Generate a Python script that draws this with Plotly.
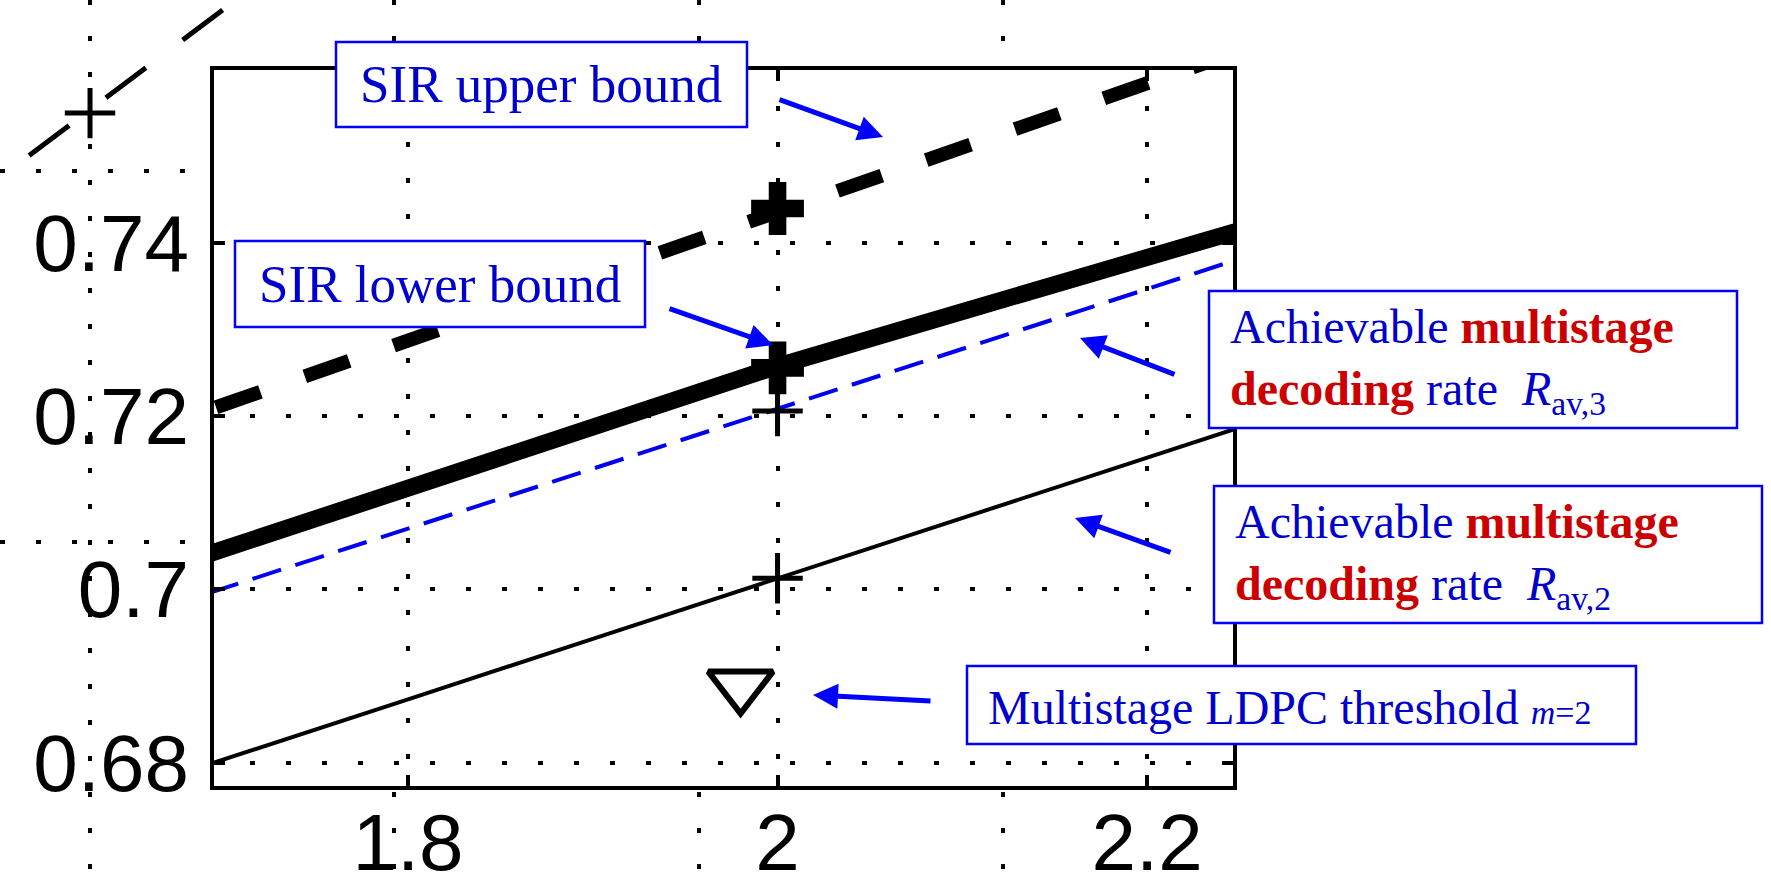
import plotly.graph_objects as go

W, H = 1771, 894

# ---------------- data (inner, zoomed plot) ----------------
snr = [1.6, 1.7, 1.8, 1.9, 2.0, 2.1, 2.2, 2.3]
sir_upper = [0.7139, 0.7213, 0.7287, 0.7362, 0.7436, 0.7510, 0.7585, 0.7659]
sir_lower = [0.6976, 0.7046, 0.7117, 0.7187, 0.7258, 0.7321, 0.7384, 0.7446]
rate_av3 = [0.6932, 0.7001, 0.7070, 0.7139, 0.7208, 0.7278, 0.7347, 0.7417]
rate_av2 = [0.6734, 0.6803, 0.6873, 0.6943, 0.7013, 0.7083, 0.7152, 0.7222]

bold_pts_x = [2.0, 2.0]
bold_pts_y = [0.7440, 0.7256]
thin_pts_x = [2.0, 2.0]
thin_pts_y = [0.7206, 0.7013]
ldpc_x = [1.980]
ldpc_y = [0.6889]

x_tickvals = [1.8, 2.0, 2.2]
x_ticktext = ["1.8", "2", "2.2"]
y_tickvals = [0.68, 0.70, 0.72, 0.74]
y_ticktext = ["0.68", "0.7", "0.72", "0.74"]
X_RANGE = [1.695, 2.2465]
Y_RANGE = [0.6773, 0.7600]

# ---------------- background (outer, un-zoomed) layer ----------------
bg_x = [-0.2, 0.0, 0.2, 0.4, 0.6]
bg_upper = [1.042, 1.165, 1.288, 1.412, 1.535]
bg_mark_x = [0.0]
bg_mark_y = [1.156]
bg_grid_x = [0, 1, 2, 3]
bg_grid_y = [0, 1]
BG_X_RANGE = [-0.2958, 3.8446]
BG_Y_RANGE = [-0.9488, 1.4609]

TXT_BLUE = "#0000CC"
TXT_RED = "#CC0000"
BOX_BLUE = "#0000FF"
LINE_BLUE = "#0000F0"
SERIF = "Liberation Serif, Times New Roman, serif"
SANS = "Liberation Sans, Arial, sans-serif"

fig = go.Figure()

# outer layer traces (xaxis / yaxis)
fig.add_trace(go.Scatter(x=bg_x, y=bg_upper, mode="lines",
                         line=dict(color="black", width=5, dash="50px,46px"),
                         xaxis="x", yaxis="y", hoverinfo="skip"))
fig.add_trace(go.Scatter(x=bg_mark_x, y=bg_mark_y, mode="markers",
                         marker=dict(symbol="cross-thin-open", size=36, color="black",
                                     line=dict(color="black", width=5)),
                         xaxis="x", yaxis="y", hoverinfo="skip"))

# inner plot traces (xaxis2 / yaxis2)
fig.add_trace(go.Scatter(x=snr, y=rate_av2, mode="lines",
                         line=dict(color="black", width=4),
                         xaxis="x2", yaxis="y2"))
fig.add_trace(go.Scatter(x=snr, y=rate_av3, mode="lines",
                         line=dict(color=LINE_BLUE, width=4, dash="30px,15px"),
                         xaxis="x2", yaxis="y2"))
fig.add_trace(go.Scatter(x=snr, y=sir_lower, mode="lines",
                         line=dict(color="black", width=17),
                         xaxis="x2", yaxis="y2"))
fig.add_trace(go.Scatter(x=snr, y=sir_upper, mode="lines",
                         line=dict(color="black", width=14, dash="47px,47px"),
                         xaxis="x2", yaxis="y2"))
fig.add_trace(go.Scatter(x=bold_pts_x, y=bold_pts_y, mode="markers",
                         marker=dict(symbol="cross", size=44, color="black",
                                     line=dict(width=0)),
                         xaxis="x2", yaxis="y2"))
fig.add_trace(go.Scatter(x=thin_pts_x, y=thin_pts_y, mode="markers",
                         marker=dict(symbol="cross-thin-open", size=36, color="black",
                                     line=dict(color="black", width=5)),
                         xaxis="x2", yaxis="y2"))
fig.add_trace(go.Scatter(x=ldpc_x, y=ldpc_y, mode="markers",
                         marker=dict(symbol="triangle-down-open", size=56,
                                     color="black",
                                     line=dict(color="black", width=6)),
                         xaxis="x2", yaxis="y2"))

GRID_DASH = "5px,31px"

# white cover so the outer grid does not show inside the inner plot
shapes = [dict(type="rect", xref="x2", yref="y2",
               x0=X_RANGE[0], x1=X_RANGE[1], y0=Y_RANGE[0], y1=Y_RANGE[1],
               fillcolor="white", line=dict(width=0), layer="below")]


def px(x):
    return x / W


def py(y):
    return 1 - y / H


boxes = [(336, 42, 747, 127), (235, 241, 645, 327), (1209, 291, 1737, 428),
         (1214, 486, 1762, 623), (967, 666, 1636, 744)]
for (x0, y0, x1, y1) in boxes:
    shapes.append(dict(type="rect", xref="paper", yref="paper",
                       x0=px(x0), x1=px(x1), y0=py(y1), y1=py(y0),
                       fillcolor="white", line=dict(color=BOX_BLUE, width=2.5),
                       layer="above"))

annotations = []


def txt(text, x, y, xanchor, size):
    annotations.append(dict(text=text, xref="paper", yref="paper",
                            x=px(x), y=py(y), xanchor=xanchor, yanchor="middle",
                            align="left", showarrow=False,
                            font=dict(family=SERIF, size=size, color=TXT_BLUE)))


red = lambda s: f"<span style='color:{TXT_RED}'><b>{s}</b></span>"

txt("SIR upper bound", 541, 84, "center", 53)
txt("SIR lower bound", 440, 284, "center", 53)
txt("Achievable " + red("multistage") + "<br>" + red("decoding") +
    " rate\u00a0 <i>R</i><sub>av,3</sub>", 1228, 361, "left", 48)
txt("Achievable " + red("multistage") + "<br>" + red("decoding") +
    " rate\u00a0 <i>R</i><sub>av,2</sub>", 1233, 556, "left", 48)
txt("Multistage LDPC threshold <span style='font-size:34px'><i>m</i>=2</span>",
    986, 707, "left", 48)

arrows = [((778, 99), (883, 137)), ((668, 308), (773, 345)),
          ((1176, 375), (1080, 338)), ((1172, 553), (1075, 518)),
          ((932, 701), (813, 695))]
for (tail, tip) in arrows:
    annotations.append(dict(text="", xref="paper", yref="paper",
                            x=px(tip[0]), y=py(tip[1]),
                            ax=tail[0] - tip[0], ay=tail[1] - tip[1],
                            axref="pixel", ayref="pixel",
                            showarrow=True, arrowhead=2, arrowsize=1.0,
                            arrowwidth=5, arrowcolor=BOX_BLUE, standoff=0))

common_bg = dict(showticklabels=False, ticks="", showline=False, zeroline=False,
                 showgrid=True, gridcolor="black", gridwidth=4, griddash=GRID_DASH,
                 fixedrange=True, automargin=False)
common_in = dict(ticks="inside", ticklen=11, tickwidth=4, tickcolor="black",
                 showline=True, linecolor="black", linewidth=4, mirror="ticks",
                 showgrid=True, gridcolor="black", gridwidth=4, griddash=GRID_DASH,
                 zeroline=False, automargin=False,
                 tickfont=dict(family=SANS, size=80, color="black"),
                 fixedrange=True)

fig.update_layout(
    width=W, height=H,
    margin=dict(l=0, r=0, t=0, b=0, pad=0, autoexpand=False),
    paper_bgcolor="white", plot_bgcolor="white",
    showlegend=False,
    shapes=shapes,
    annotations=annotations,
    xaxis=dict(domain=[0, 1260 / W], range=BG_X_RANGE, tickvals=bg_grid_x, **common_bg),
    yaxis=dict(domain=[0, 1], range=BG_Y_RANGE, tickvals=bg_grid_y, **common_bg),
    xaxis2=dict(domain=[214 / W, 1233 / W], range=X_RANGE, anchor="y2",
                tickvals=x_tickvals, ticktext=x_ticktext,
                ticklabelstandoff=-16, **common_in),
    yaxis2=dict(domain=[1 - 786 / H, 1 - 70 / H], range=Y_RANGE, anchor="x2",
                tickvals=y_tickvals, ticktext=y_ticktext,
                ticklabelstandoff=5, **common_in),
)

fig.write_html("out.html")
